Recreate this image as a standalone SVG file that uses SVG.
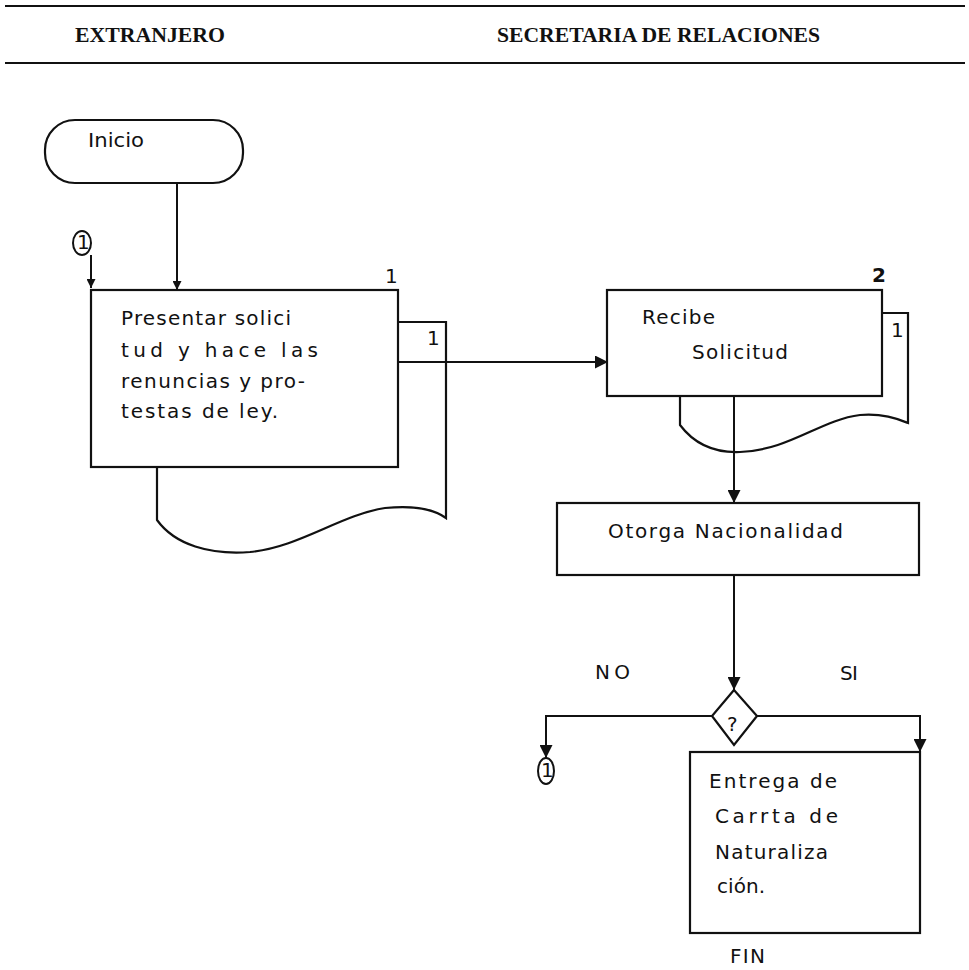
<svg xmlns="http://www.w3.org/2000/svg" width="969" height="970" viewBox="0 0 969 970">
<style>
.hdr{font-family:"Liberation Serif",serif;font-weight:bold;font-size:20px;fill:#111}
.t{font-family:"DejaVu Sans","Liberation Sans",sans-serif;font-size:20px;fill:#111}
.s{fill:none;stroke:#111;stroke-width:2.2}
.c{fill:none;stroke:#111;stroke-width:2}
</style>
<defs>
<marker id="ah" viewBox="0 0 10 10" refX="10" refY="5" markerWidth="10" markerHeight="9" orient="auto" markerUnits="userSpaceOnUse">
<path d="M0,0 L10,5 L0,10 z" fill="#111"/>
</marker>
<marker id="ahb" viewBox="0 0 10 10" refX="10" refY="5" markerWidth="14" markerHeight="13" orient="auto" markerUnits="userSpaceOnUse">
<path d="M0,0 L10,5 L0,10 z" fill="#111"/>
</marker>
</defs>
<rect width="969" height="970" fill="#fff"/>
<g id="header">
<line x1="5" y1="6" x2="965" y2="6" stroke="#111" stroke-width="2"/>
<line x1="5" y1="63" x2="965" y2="63" stroke="#111" stroke-width="2"/>
<text class="hdr" x="75" y="42" textLength="150" lengthAdjust="spacingAndGlyphs">EXTRANJERO</text>
<text class="hdr" x="497" y="42" textLength="323" lengthAdjust="spacingAndGlyphs">SECRETARIA DE RELACIONES</text>
</g>
<g id="inicio">
<rect class="s" x="45" y="120" width="198" height="63" rx="30" ry="30"/>
<text class="t" x="88" y="147" font-size="18" textLength="56" lengthAdjust="spacingAndGlyphs">Inicio</text>
</g>
<g id="conector-1-entrada">
<ellipse class="c" cx="82" cy="243" rx="9" ry="12"/>
<text class="t" x="77" y="249" font-size="15">1</text>
</g>
<g id="presentar-solicitud">
<path class="s" d="M157,467 V520 C175,545 210,555 250,552 C300,547 340,515 385,508 C415,505 435,510 446,518 V322 H398"/>
<rect class="s" x="91" y="290" width="307" height="177" fill="#fff"/>
<text class="t" x="385" y="283" font-size="14">1</text>
<text class="t" x="427" y="345" font-size="14">1</text>
<text class="t" x="121" y="325" textLength="170" lengthAdjust="spacing">Presentar solici</text>
<text class="t" x="121" y="357" textLength="197" lengthAdjust="spacing">tud  y  hace las</text>
<text class="t" x="121" y="388" textLength="184" lengthAdjust="spacing">renuncias y pro-</text>
<text class="t" x="121" y="418" textLength="157" lengthAdjust="spacing">testas de ley.</text>
</g>
<g id="recibe-solicitud">
<path class="s" d="M680,396 V425 C695,445 715,453 740,452 C790,450 820,420 860,415 C885,413 900,420 908,423 V313 H882"/>
<rect class="s" x="607" y="290" width="275" height="106" fill="#fff"/>
<text class="t" x="872" y="282" font-size="20" font-weight="bold">2</text>
<text class="t" x="891" y="337" font-size="14">1</text>
<text class="t" x="642" y="324" textLength="73" lengthAdjust="spacing">Recibe</text>
<text class="t" x="692" y="359" textLength="96" lengthAdjust="spacing">Solicitud</text>
</g>
<g id="otorga-nacionalidad">
<rect class="s" x="557" y="503" width="362" height="72"/>
<text class="t" x="608" y="538" textLength="235" lengthAdjust="spacing">Otorga Nacionalidad</text>
</g>
<g id="decision">
<path class="s" d="M734,690 L757,716 L734,745 L712,716 Z" fill="#fff"/>
<text class="t" x="727" y="731" font-size="21">?</text>
</g>
<g id="entrega-carta">
<rect class="s" x="690" y="752" width="230" height="181"/>
<text class="t" x="709" y="788" textLength="128" lengthAdjust="spacing">Entrega de</text>
<text class="t" x="715" y="823" textLength="123" lengthAdjust="spacing">Carrta  de</text>
<text class="t" x="715" y="859" textLength="113" lengthAdjust="spacing">Naturaliza</text>
<text class="t" x="717" y="893" textLength="48" lengthAdjust="spacing">ción.</text>
</g>
<g id="fin">
<text class="t" x="730" y="963" font-size="16" textLength="35" lengthAdjust="spacing">FIN</text>
</g>
<g id="conector-1-salida">
<ellipse class="c" cx="546" cy="771" rx="8" ry="13"/>
<text class="t" x="541" y="777" font-size="14">1</text>
</g>
<g id="labels">
<text class="t" x="595" y="679" font-size="17" textLength="35" lengthAdjust="spacing">NO</text>
<text class="t" x="840" y="680" font-size="17" textLength="18" lengthAdjust="spacing">SI</text>
</g>
<g id="connectors">
<line class="c" x1="177" y1="183" x2="177" y2="290" marker-end="url(#ah)"/>
<line class="c" x1="91" y1="255" x2="91" y2="288" marker-end="url(#ah)"/>
<line class="c" x1="398" y1="362" x2="608" y2="362" marker-end="url(#ahb)"/>
<line class="c" x1="398" y1="322" x2="398" y2="362"/>
<line class="c" x1="734" y1="396" x2="734" y2="503" marker-end="url(#ahb)"/>
<line class="c" x1="734" y1="575" x2="734" y2="690" marker-end="url(#ahb)"/>
<polyline class="c" points="757,716 920,716 920,752" marker-end="url(#ahb)"/>
<polyline class="c" points="712,716 546,716 546,758" marker-end="url(#ahb)"/>
</g>
</svg>
